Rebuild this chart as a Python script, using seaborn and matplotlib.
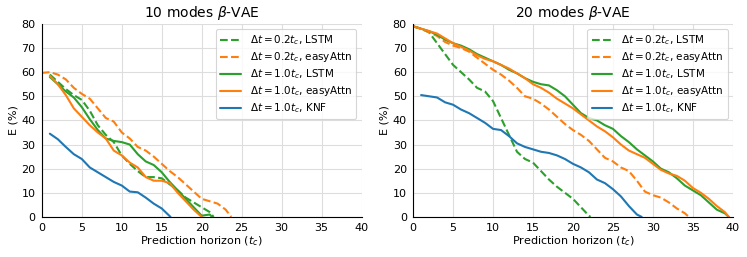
import numpy as np
import pandas as pd
import matplotlib
matplotlib.use("Agg")
import matplotlib.pyplot as plt
import seaborn as sns

sns.set_style("whitegrid")
plt.rcParams['font.family'] = ['DejaVu Sans']
plt.rcParams['text.color'] = 'black'
plt.rcParams['axes.labelcolor'] = 'black'

# ---- data: 10 modes beta-VAE ----
l_dt02_lstm_x = [1, 2, 3, 4, 5, 6, 7, 8, 9, 10, 11, 12, 13, 14, 15, 16, 17, 18, 19, 20, 21, 21.5]
l_dt02_lstm_y = [59, 56, 53, 50.5, 48.5, 44, 38, 34, 31, 25.5, 22, 19, 16.5, 16.5, 16, 13.5, 11, 8, 6, 4, 2, 0]

l_dt02_attn_x = [0, 1, 2, 3, 4, 5, 6, 7, 8, 9, 10, 11, 12, 13, 14, 15, 16, 17, 18, 19, 20, 21, 22, 23, 23.7]
l_dt02_attn_y = [59.7, 60, 59, 57, 53.5, 51, 49, 45, 41, 39.5, 35, 32.5, 29, 27.5, 25, 22, 19, 16.5, 13.5, 10.5, 7.5, 6.5, 5.5, 3, 0]

l_dt10_lstm_x = [1, 2, 3, 4, 5, 6, 7, 8, 9, 10, 11, 12, 13, 14, 15, 16, 17, 18, 19, 20, 21, 21.3]
l_dt10_lstm_y = [58, 55, 52, 49.5, 45.5, 40.5, 36, 32.5, 31.5, 31, 30, 26, 23, 21.5, 18.5, 14.5, 11, 7.5, 4, 0.5, 1, 0]

l_dt10_attn_x = [1, 2, 3, 4, 5, 6, 7, 8, 9, 10, 11, 12, 13, 14, 15, 16, 17, 18, 19, 20]
l_dt10_attn_y = [58.5, 55, 50.5, 45, 41.5, 38, 35, 32.5, 27.5, 25.5, 22.5, 20.5, 16.5, 15, 15, 14, 10, 6.5, 3, 0]

l_knf_x = [1, 2, 3, 4, 5, 6, 7, 8, 9, 10, 11, 12, 13, 14, 15, 16.1]
l_knf_y = [34.5, 32.2, 29, 26, 24, 20.5, 18.5, 16.5, 14.5, 13, 10.5, 10.2, 8, 5.5, 3.5, 0]

# ---- data: 20 modes beta-VAE ----
r_dt02_lstm_x = [0, 1, 2, 3, 4, 5, 6, 7, 8, 9, 10, 11, 12, 13, 14, 15, 16, 17, 18, 19, 20, 21, 22, 22.2]
r_dt02_lstm_y = [79, 78, 76.5, 72, 67.5, 63, 60, 57, 53.5, 52, 48, 41, 34, 27, 24, 22.5, 19, 15.5, 12.5, 10, 7.5, 4, 0.5, 0]

r_dt02_attn_x = list(range(35)) + [34.5]
r_dt02_attn_y = [79, 78, 76.5, 75, 72.5, 71, 70, 68.5, 66, 63.5, 61, 59, 56.5, 53.5, 50, 49, 47, 44.5,
                 41.5, 38.5, 36, 34, 31.5, 28, 24.5, 23, 20.5, 19, 15, 10.5, 9, 8, 6, 3.5, 1.5, 0]

r_dt10_lstm_x = list(range(40)) + [39.5]
r_dt10_lstm_y = [79, 78, 77, 75.5, 73.5, 72, 71, 69.5, 67.5, 66, 64.5, 63, 61, 59.5, 57.5, 56, 55, 54.5,
                 52.5, 50, 46.5, 43, 41, 40, 38, 36.5, 33.5, 31, 28, 25.5, 23, 20, 18.5, 16, 13, 11, 9,
                 6, 3, 1.5, 0]

r_dt10_attn_x = list(range(40)) + [39.5]
r_dt10_attn_y = [79, 78, 77, 76, 74, 72, 70.5, 69, 67, 65.5, 64.5, 63, 61.5, 59.5, 57.5, 55, 53.5, 51.5,
                 49, 47, 45, 42.5, 40, 37.5, 35.5, 33, 30, 27.5, 26, 24.5, 22, 19.5, 18, 17, 15, 12, 10,
                 7.5, 4.5, 2, 0]

r_knf_x = list(range(1, 29)) + [28.6]
r_knf_y = [50.5, 50, 49.5, 47.5, 46.5, 44.5, 43, 41, 39, 36.5, 36, 33.5, 30.5, 29, 28, 27, 26.5, 25.5,
           24, 22, 20.5, 18.5, 15.5, 14, 11.5, 8.5, 4.5, 1, 0]

labels = [r'$\Delta t = 0.2t_c$, LSTM', r'$\Delta t = 0.2t_c$, easyAttn',
          r'$\Delta t = 1.0t_c$, LSTM', r'$\Delta t = 1.0t_c$, easyAttn',
          r'$\Delta t = 1.0t_c$, KNF']
colors = ['#2ca02c', '#ff7f0e', '#2ca02c', '#ff7f0e', '#1f77b4']
styles = ['--', '--', '-', '-', '-']

panels = [
    ('10 modes $\\beta$-VAE', [(l_dt02_lstm_x, l_dt02_lstm_y), (l_dt02_attn_x, l_dt02_attn_y),
                               (l_dt10_lstm_x, l_dt10_lstm_y), (l_dt10_attn_x, l_dt10_attn_y),
                               (l_knf_x, l_knf_y)]),
    ('20 modes $\\beta$-VAE', [(r_dt02_lstm_x, r_dt02_lstm_y), (r_dt02_attn_x, r_dt02_attn_y),
                               (r_dt10_lstm_x, r_dt10_lstm_y), (r_dt10_attn_x, r_dt10_attn_y),
                               (r_knf_x, r_knf_y)]),
]

fig = plt.figure(figsize=(7.47, 2.57), dpi=100)
lefts = [0.056, 0.553]

for left, (title, series) in zip(lefts, panels):
    ax = fig.add_axes([left, 0.156, 0.428, 0.751])
    for (xs, ys), lab, c, ls in zip(series, labels, colors, styles):
        sns.lineplot(x=xs, y=ys, ax=ax, color=c, linestyle=ls, label=lab, linewidth=1.5)
    ax.set_xlim(0, 40)
    ax.set_ylim(0, 80)
    ax.set_xticks(np.arange(0, 41, 5))
    ax.set_yticks(np.arange(0, 81, 10))
    ax.tick_params(labelsize=8, length=3, width=0.8, color='black', labelcolor='black', pad=1.5)
    ax.set_title(title, fontsize=10, pad=5)
    ax.set_xlabel(r'Prediction horizon ($t_c$)', fontsize=8, labelpad=1)
    ax.set_ylabel('E (%)', fontsize=8, labelpad=2)
    ax.grid(True, color='#dddddd', linewidth=0.8)
    for s in ['top', 'right']:
        ax.spines[s].set_visible(False)
    for s in ['left', 'bottom']:
        ax.spines[s].set_color('black')
        ax.spines[s].set_linewidth(0.8)
    leg = ax.legend(loc='upper right', fontsize=7.5, frameon=True, fancybox=True,
                    borderpad=0.4, labelspacing=0.3, handlelength=2.0)
    leg.get_frame().set_edgecolor('#cccccc')
    leg.get_frame().set_linewidth(0.8)

fig.savefig('out.png', dpi=100)
